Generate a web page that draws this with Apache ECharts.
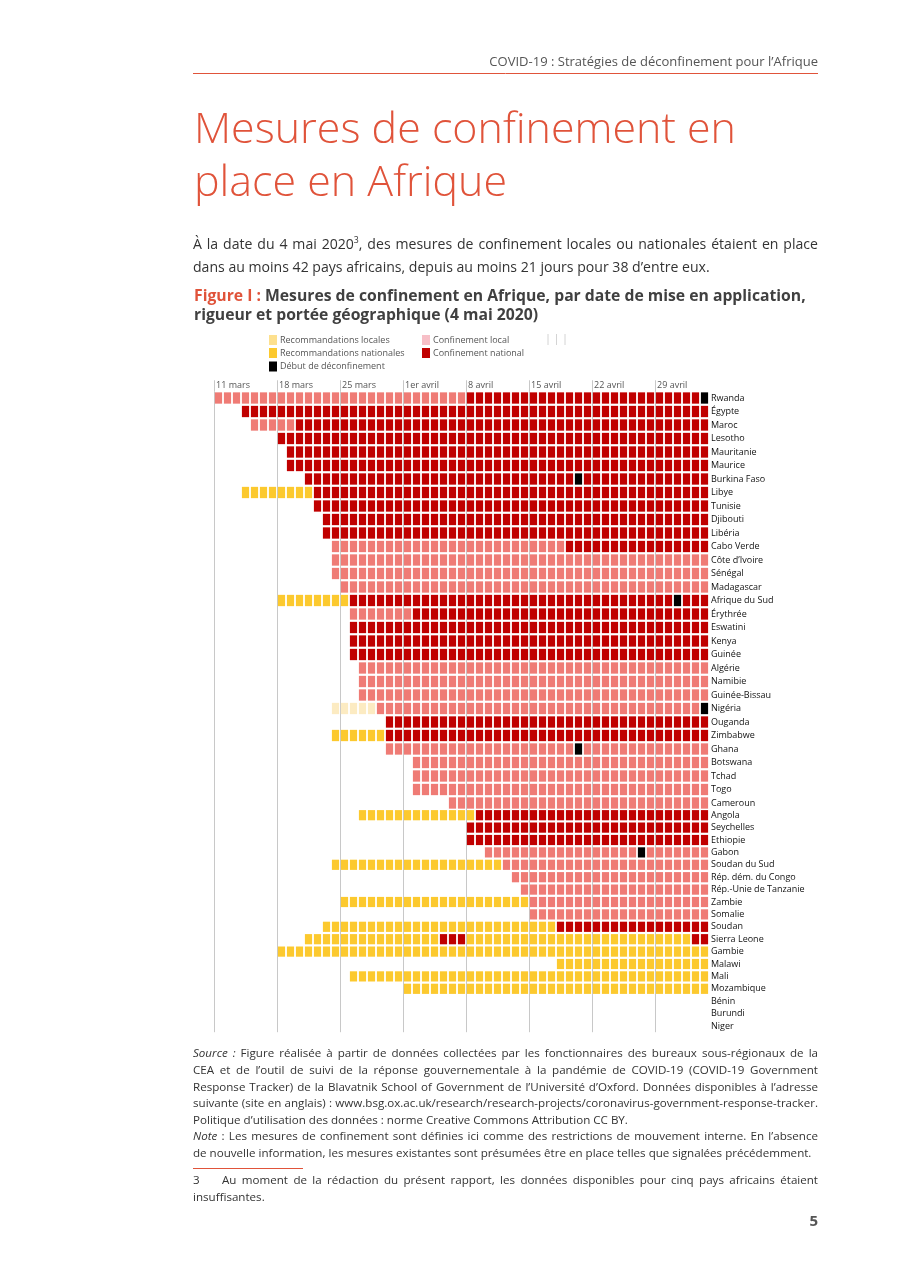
<!DOCTYPE html>
<html><head><meta charset="utf-8">
<script src="https://cdn.jsdelivr.net/npm/echarts@6/dist/echarts.min.js"></script>
<style>html,body{margin:0;padding:0;background:#fff}#c{width:904px;height:1279px}</style>
</head><body><div id="c"></div>
<script>
// ---------- DATA ----------
const dayLabels = ['11 mars','18 mars','25 mars','1er avril','8 avril','15 avril','22 avril','29 avril'];
const tickDays = [0,7,14,21,28,35,42,49];
const nDays = 55; // 11 mars .. 4 mai
const measureNames = ['Recommandations locales','Recommandations nationales','Confinement local','Confinement national','Début de déconfinement'];
const measureCodes = {l:0, n:1, p:2, r:3, x:4};
const countries = ['Rwanda','Égypte','Maroc','Lesotho','Mauritanie','Maurice','Burkina Faso','Libye','Tunisie','Djibouti','Libéria','Cabo Verde','Côte d’Ivoire','Sénégal','Madagascar','Afrique du Sud','Érythrée','Eswatini','Kenya','Guinée','Algérie','Namibie','Guinée-Bissau','Nigéria','Ouganda','Zimbabwe','Ghana','Botswana','Tchad','Togo','Cameroun','Angola','Seychelles','Ethiopie','Gabon','Soudan du Sud','Rép. dém. du Congo','Rép.-Unie de Tanzanie','Zambie','Somalie','Soudan','Sierra Leone','Gambie','Malawi','Mali','Mozambique','Bénin','Burundi','Niger'];
// run-length per country: '.'=none, l/n/p/r/x = measure code, followed by number of days
const rowRuns = ['p28 r26 x1','.3 r52','.4 p5 r46','.7 r48','.8 r47','.8 r47','.10 r30 x1 r14','.3 n8 r44','.11 r44','.12 r43','.12 r43','.13 p26 r16','.13 p42','.13 p42','.14 p41','.7 n8 r36 x1 r3','.15 p7 r33','.15 r40','.15 r40','.15 r40','.16 p39','.16 p39','.16 p39','.13 l5 p36 x1','.19 r36','.13 n6 r36','.19 p21 x1 p14','.22 p33','.22 p33','.22 p33','.26 p29','.16 n13 r26','.28 r27','.28 r27','.30 p17 x1 p7','.13 n19 p23','.33 p22','.34 p21','.14 n21 p20','.35 p20','.12 n26 r17','.10 n15 r3 n25 r2','.7 n48','.38 n17','.15 n40','.21 n34','','',''];

// ---------- STYLE ----------
const cellColors = ['#FCEBC2','#FCC92E','#EF7B75','#C00000','#000000'];
const legendColors = ['#FDE08E','#FCC92E','#F7BFC7','#C00000','#000000'];
const FAM = "'Open Sans', 'Noto Sans', sans-serif";
const ACCENT = '#E0533A';
const splitRow = 31;

const data0 = [], data1 = [];
rowRuns.forEach((r, ri) => {
  let col = 0;
  r.split(' ').filter(Boolean).forEach(tok => {
    const c = tok[0], n = +tok.slice(1);
    if (c !== '.') for (let k = 0; k < n; k++) {
      if (ri < splitRow) data0.push([col + k, ri, measureCodes[c]]);
      else data1.push([col + k, ri - splitRow, measureCodes[c]]);
    }
    col += n;
  });
});

// ---------- text helpers ----------
const cv = document.createElement('canvas').getContext('2d');
function fstr(st, size){ return (st.italic?'italic ':'normal ') + (st.weight||400) + ' ' + size + 'px ' + st.family; }
function mw(st, size, t){ cv.font = fstr(st, size); return cv.measureText(t).width; }
function fit(st, t, w){ return 100 * w / mw(st, 100, t); }
function tokenize(segs){
  const words = []; let cur = [];
  segs.forEach(s => {
    s.t.split(' ').forEach((p, i) => {
      if (i > 0) { if (cur.length) words.push(cur); cur = []; }
      if (p) cur.push({t:p, st:s.st});
    });
  });
  if (cur.length) words.push(cur);
  return words;
}
function lineEls(segs, x, y, size, width, justify, styles){
  const words = tokenize(segs);
  const pieceSize = p => styles[p.st].sup ? size*0.62 : size;
  const ws = words.map(w => w.reduce((a,p) => a + mw(styles[p.st], pieceSize(p), p.t), 0));
  const total = ws.reduce((a,b) => a+b, 0);
  const sp = (justify && words.length > 1) ? (width - total)/(words.length - 1) : mw(styles.n, size, ' ');
  let cx = x; const els = [];
  words.forEach((w, i) => {
    let px = cx;
    w.forEach(p => {
      const s = styles[p.st], fs = pieceSize(p);
      els.push({type:'text', x:px, y: y + (s.sup ? -size*0.32 : 0), silent:true,
        style:{text:p.t, fontSize:fs, fontFamily:s.family, fontWeight:s.weight||400, fontStyle:s.italic?'italic':'normal', fill:s.fill, align:'left', verticalAlign:'middle'}});
      px += mw(s, fs, p.t);
    });
    cx += ws[i] + sp;
  });
  return els;
}

const body = {n:{family:FAM, fill:'#333'}, i:{family:FAM, fill:'#333', italic:true}, sup:{family:FAM, fill:'#333', sup:true}};
const g = [];

// header
const hdrSt = {family:FAM, fill:'#555'};
const hdrText = 'COVID-19 : Stratégies de déconfinement pour l’Afrique';
const hdrSize = fit(hdrSt, hdrText, 329);
g.push({type:'text', x:818, y:62, silent:true, style:{text:hdrText, fontSize:hdrSize, fontFamily:FAM, fill:'#555', align:'right', verticalAlign:'middle'}});
g.push({type:'line', silent:true, shape:{x1:193, y1:73.5, x2:818, y2:73.5}, style:{stroke:ACCENT, lineWidth:1}});

// title
const tSt = {family:FAM, weight:300, fill:ACCENT};
const tSize = fit(tSt, 'Mesures de confinement en', 542);
['Mesures de confinement en','place en Afrique'].forEach((t, i) => {
  g.push({type:'text', x:194, y:131 + i*53, silent:true, style:{text:t, fontSize:tSize, fontFamily:FAM, fontWeight:300, fill:ACCENT, align:'left', verticalAlign:'middle'}});
});

// intro
const introSize = fit(body.n, 'dans au moins 42 pays africains, depuis au moins 21 jours pour 38 d’entre eux.', 517);
g.push(...lineEls([{t:'À la date du 4 mai 2020', st:'n'},{t:'3', st:'sup'},{t:', des mesures de confinement locales ou nationales étaient en place', st:'n'}], 193, 245, introSize, 625, true, body));
g.push(...lineEls([{t:'dans au moins 42 pays africains, depuis au moins 21 jours pour 38 d’entre eux.', st:'n'}], 193, 268, introSize, 625, false, body));

// caption
const cap = {n:{family:FAM, weight:700, fill:'#404040'}, r:{family:FAM, weight:700, fill:ACCENT}};
const capSize = fit(cap.n, 'Figure I : Mesures de confinement en Afrique, par date de mise en application,', 612);
g.push(...lineEls([{t:'Figure I :', st:'r'},{t:' Mesures de confinement en Afrique, par date de mise en application,', st:'n'}], 194, 297, capSize, 612, false, cap));
g.push(...lineEls([{t:'rigueur et portée géographique (4 mai 2020)', st:'n'}], 194, 316, capSize, 612, false, cap));

// legend
const legPos = [[270,340],[270,353],[423,340],[423,353],[270,366.5]];
measureNames.forEach((nm, k) => {
  const [lx, ly] = legPos[k];
  g.push({type:'rect', silent:true, shape:{x:lx-1, y:ly-5, width:8, height:10}, style:{fill:legendColors[k]}});
  g.push({type:'text', x:lx+10, y:ly, silent:true, style:{text:nm, fontSize:9, fontFamily:FAM, fill:'#555', align:'left', verticalAlign:'middle'}});
});
[548,556.5,565].forEach(x => g.push({type:'line', silent:true, shape:{x1:x, y1:334, x2:x, y2:345}, style:{stroke:'#d4d4d4', lineWidth:1}}));

// source / note
const srcLines = [
  [[{t:'Source :', st:'i'},{t:' Figure réalisée à partir de données collectées par les fonctionnaires des bureaux sous-régionaux de la', st:'n'}], true],
  [[{t:'CEA et de l’outil de suivi de la réponse gouvernementale à la pandémie de COVID-19 (COVID-19 Government', st:'n'}], true],
  [[{t:'Response Tracker) de la Blavatnik School of Government de l’Université d’Oxford. Données disponibles à l’adresse', st:'n'}], true],
  [[{t:'suivante (site en anglais) : www.bsg.ox.ac.uk/research/research-projects/coronavirus-government-response-tracker.', st:'n'}], true],
  [[{t:'Politique d’utilisation des données : norme Creative Commons Attribution CC BY.', st:'n'}], false],
  [[{t:'Note', st:'i'},{t:' : Les mesures de confinement sont définies ici comme des restrictions de mouvement interne. En l’absence', st:'n'}], true],
  [[{t:'de nouvelle information, les mesures existantes sont présumées être en place telles que signalées précédemment.', st:'n'}], false]
];
const srcSize = Math.min(12.5, fit(body.n, 'de nouvelle information, les mesures existantes sont présumées être en place telles que signalées précédemment.', 619));
srcLines.forEach(([segs, j], i) => g.push(...lineEls(segs, 193, 1054 + i*16.6, srcSize, 625, j, body)));
g.push({type:'line', silent:true, shape:{x1:193, y1:1168.5, x2:303, y2:1168.5}, style:{stroke:ACCENT, lineWidth:1}});
g.push({type:'text', x:193, y:1181, silent:true, style:{text:'3', fontSize:srcSize, fontFamily:FAM, fill:'#333', align:'left', verticalAlign:'middle'}});
g.push(...lineEls([{t:'Au moment de la rédaction du présent rapport, les données disponibles pour cinq pays africains étaient', st:'n'}], 222, 1181, srcSize, 596, true, body));
g.push(...lineEls([{t:'insuffisantes.', st:'n'}], 193, 1198, srcSize, 625, false, body));
g.push({type:'text', x:818, y:1222, silent:true, style:{text:'5', fontSize:15, fontWeight:700, fontFamily:FAM, fill:'#555', align:'right', verticalAlign:'middle'}});

// ---------- chart ----------
const xAx = (gi, lab) => ({
  type:'value', gridIndex:gi, min:0, max:nDays, position:'top',
  axisLine:{show:false},
  axisTick:{show:lab, customValues:tickDays, length:11, lineStyle:{color:'#c8c8c8'}},
  axisLabel:{show:lab, customValues:tickDays, formatter: v => dayLabels[tickDays.indexOf(v)] || '', align:'left', margin:1, padding:[0,0,0,2], color:'#555', fontSize:9, fontFamily:FAM},
  splitLine:{show:true, lineStyle:{color:'#c8c8c8', width:1}}
});
const yAx = (gi, names) => ({
  type:'category', gridIndex:gi, data:names, inverse:true, position:'right',
  axisLine:{show:false}, axisTick:{show:false}, splitLine:{show:false},
  axisLabel:{margin:2, color:'#111', fontSize:9, fontFamily:FAM, interval:0}
});
const cellSeries = (gi, data) => ({
  type:'custom', xAxisIndex:gi, yAxisIndex:gi, data, encode:{x:0, y:1}, silent:true,
  renderItem: (params, api) => {
    const col = api.value(0), row = api.value(1), k = api.value(2);
    const a = api.coord([col, row]), b = api.coord([col + 1, row]);
    const h = api.size([1, 1])[1];
    return {type:'rect', shape:{x:a[0] + 0.9, y:a[1] - h/2 + 1.1, width:b[0] - a[0] - 1.8, height:h - 2.2}, style:{fill:cellColors[k]}};
  }
});

const chart = echarts.init(document.getElementById('c'), null, {width:904, height:1279});
chart.setOption({
  animation:false,
  backgroundColor:'#fff',
  grid:[
    {left:214, width:495, top:391.25, height:418.5},
    {left:214, width:495, top:809, height:223.2}
  ],
  xAxis:[xAx(0, true), xAx(1, false)],
  yAxis:[yAx(0, countries.slice(0, splitRow)), yAx(1, countries.slice(splitRow))],
  series:[cellSeries(0, data0), cellSeries(1, data1)],
  graphic:{elements:g}
});
</script>
</body></html>
